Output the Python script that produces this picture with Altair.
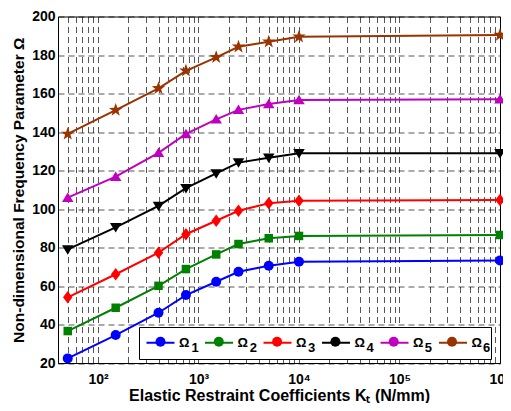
import math
import altair as alt
import pandas as pd

# ---- data ----
K = [50, 150, 400, 750, 1500, 2500, 5000, 10000, 1000000]
series_names = ["Ω1", "Ω2", "Ω3", "Ω4", "Ω5", "Ω6"]
O1 = [22.4, 34.5, 46.1, 55.3, 62.2, 67.4, 70.5, 72.6, 73.3]
O2 = [36.6, 48.7, 60.1, 68.8, 76.4, 81.8, 84.8, 86.0, 86.5]
O3 = [54.1, 66.1, 77.3, 86.9, 93.9, 99.1, 103.0, 104.3, 104.7]
O4 = [79.0, 90.5, 101.6, 110.8, 118.5, 124.1, 126.6, 128.9, 128.9]
O5 = [105.9, 116.8, 129.2, 139.0, 146.6, 151.5, 154.5, 156.6, 157.0]
O6 = [139.0, 151.4, 162.7, 171.8, 178.8, 184.3, 186.9, 189.5, 190.4]
colors = ["#0000FF", "#008000", "#FF0000", "#000000", "#C000C0", "#993300"]
y_ticks = [20, 40, 60, 80, 100, 120, 140, 160, 180, 200]
x_major_labels = {100: "10²", 1000: "10³", 10000: "10⁴", 100000: "10⁵", 1000000: "10⁶"}

rows = []
for name, vals in zip(series_names, [O1, O2, O3, O4, O5, O6]):
    for k, v in zip(K, vals):
        rows.append({"K": k, "Omega": v, "series": name})
df = pd.DataFrame(rows)

# ---- marker shapes ----
def star_path(ro=1.4, ri=0.56):
    pts = []
    for i in range(10):
        a = -math.pi / 2 + i * math.pi / 5
        r = ro if i % 2 == 0 else ri
        pts.append(f"{r*math.cos(a):.3f},{r*math.sin(a):.3f}")
    return "M" + "L".join(pts) + "Z"

shapes = [
    "circle",
    "M-0.85,-0.85H0.85V0.85H-0.85Z",
    "M0,-1.25L0.95,0L0,1.25L-0.95,0Z",
    "M-1.15,-0.85L1.15,-0.85L0,1.05Z",
    "M0,-1.05L1.15,0.85L-1.15,0.85Z",
    star_path(),
]

x_ticks = []
for n in range(1, 6):
    for k in range(1, 10):
        v = k * 10 ** n
        if 40 <= v <= 1000000:
            x_ticks.append(v)
x_ticks.append(1000000)

label_expr = " : ".join(
    [f"datum.value == {v} ? '{t}'" for v, t in x_major_labels.items()]
) + " : ''"

FONT = "Liberation Sans"

x_enc = alt.X(
    "K:Q",
    scale=alt.Scale(type="log", domain=[40, 1000000], nice=False),
    axis=alt.Axis(
        values=x_ticks,
        labelExpr=label_expr,
        title="Elastic Restraint Coefficients Kₜ (N/mm)",
        labelOverlap=False,
        labelFlush=False,
        labelPadding=9,
        titlePadding=1,
        titleFontSize=16,
    ),
)
y_enc = alt.Y(
    "Omega:Q",
    scale=alt.Scale(domain=[20, 200], nice=False, zero=False),
    axis=alt.Axis(
        values=y_ticks,
        title="Non-dimensional Frequency Parameter Ω",
        labelPadding=3,
        titlePadding=5,
        titleFontSize=15.5,
    ),
)

common_legend = dict(
    orient="none",
    direction="horizontal",
    title=None,
    symbolSize=100,
    symbolOffset=6,
    symbolStrokeWidth=2,
    labelFont=FONT,
    labelFontSize=13,
    labelFontWeight="bold",
    labelColor="black",
    columns=6,
)

color_scale = alt.Scale(domain=series_names, range=colors)

line_legend = alt.Legend(
    symbolType="M-2.8,0H2.8",
    strokeColor="black",
    fillColor="white",
    legendX=81,
    legendY=310.5,
    padding=9,
    labelOffset=12,
    columnPadding=10.5,
    labelExpr="'Ω\u00a0\u00a0'",
    **common_legend,
)

lines = alt.Chart(df).mark_line(strokeWidth=2).encode(
    x=x_enc,
    y=y_enc,
    color=alt.Color("series:N", scale=color_scale, sort=series_names, legend=line_legend),
)

pt_legend = alt.Legend(
    legendX=84,
    legendY=312.5,
    padding=6,
    labelOffset=24.5,
    columnPadding=7.3,
    labelBaseline="top",
    labelExpr="slice(datum.label, 1)",
    **common_legend,
)
points = alt.Chart(df).mark_point(filled=True, opacity=1, size=100).encode(
    x=x_enc,
    y=y_enc,
    color=alt.Color("series:N", scale=color_scale, sort=series_names, legend=pt_legend),
    shape=alt.Shape(
        "series:N",
        scale=alt.Scale(domain=series_names, range=shapes),
        sort=series_names,
        legend=pt_legend,
    ),
)

chart = (
    alt.layer(lines, points)
    .resolve_legend(color="independent")
    .properties(
        width=442,
        height=346.5,
        autosize=alt.AutoSizeParams(type="none"),
        padding={"left": 50, "top": 8.5, "right": 3, "bottom": 40},
    )
    .configure_view(stroke="black", strokeWidth=1)
    .configure_axis(
        labelFont=FONT,
        labelFontSize=14,
        labelFontWeight="bold",
        labelColor="black",
        titleFont=FONT,
        titleFontWeight="bold",
        titleColor="black",
        domainColor="black",
        domainWidth=1,
        ticks=False,
        grid=True,
        gridColor="black",
        gridDash=[6, 4],
        gridWidth=0.7,
        gridOpacity=0.95,
    )
)

chart.save("out.html", embed_options={"renderer": "svg", "actions": False})
